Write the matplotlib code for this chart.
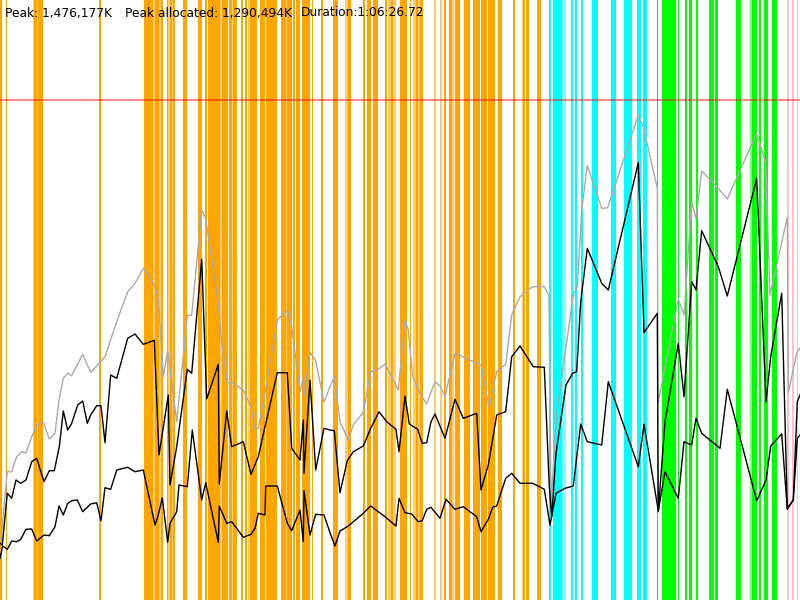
import matplotlib
matplotlib.use("Agg")
import matplotlib.pyplot as plt

# ---- header text values ----
peak_text = "Peak: 1,476,177K"
alloc_text = "Peak allocated: 1,290,494K"
duration_text = "Duration:1:06:26.72"
peak_level = 100  # screen row of the peak marker line

# ---- event bars (start, end) in time units ----
orange_bars = [(0, 2), (6, 7.3), (34.3, 36.7), (38, 43.3), (98.5, 100.5), (144, 147.5), (148.3, 153.3),
               (155, 159.3), (160.7, 162.7), (166.7, 168.3), (170, 171.7), (172.7, 175), (182.7, 186.7),
               (198.3, 201.7), (205, 207.3), (208.3, 220), (222, 228.3), (229.3, 231.7), (233.3, 236.7),
               (240.7, 243.3), (245, 246.7), (250, 257.3), (260, 265), (266, 277.3), (280.7, 286),
               (287.3, 291.7), (292.7, 295), (296, 300), (301.7, 310), (311.7, 312.7), (320.7, 323.3),
               (333.3, 338.3), (348, 351), (363.3, 365), (367.3, 370.7), (372.7, 378.3), (385, 386.7),
               (390.7, 393.3), (400, 407.3), (410, 411), (416, 418.3), (420, 422.7), (444, 446),
               (449, 451.7), (455, 460), (464, 470), (473.3, 480), (481, 487.3), (488.3, 495),
               (497.7, 502.3), (512.7, 515), (523, 525), (525.7, 529), (536.7, 541)]
light_orange_bars = [(32.7, 34.3), (36.7, 38), (147.5, 148.3), (153.3, 155), (159.3, 160.7),
                     (168.3, 170), (171.7, 172.7), (220, 222), (231.7, 233.3), (248, 250),
                     (286, 287.3), (345, 348), (387.7, 390.7), (393.3, 395.7), (412.7, 416),
                     (418.3, 420), (434, 435.7), (440, 442.3), (451.7, 454), (521.7, 523)]
cyan_bars = [(549, 550.5), (552.7, 561.7), (570.7, 572.7), (575, 576.7), (580.7, 582.7),
             (591.7, 598.3), (611, 616), (624, 626.7), (627.3, 631.7), (636.7, 640.7), (643.3, 647.3)]
light_cyan_bars = [(562.3, 565.7)]
green_bars = [(656.7, 658), (661.7, 667.7), (668.3, 672.7), (673.3, 676), (677.7, 679.3),
              (685, 686.7), (689.3, 691.7), (695.7, 697.7), (709, 714.3), (715, 718.3),
              (736, 741), (751.7, 756.7), (759, 760.5), (764, 768.3), (771.7, 776.7)]
light_green_bars = [(750, 751.7)]
pink_bars = [(786.5, 788.5), (791.5, 793.5), (796.5, 798)]

# ---- series (time, screen row) ----
peak_x = [1, 7.3, 11.7, 16.7, 21.7, 26, 31.7, 36.7, 43.3, 49.3, 55, 59, 63.3, 67.7, 71.7, 82.7, 90.7,
          99.3, 105, 116.7, 127.7, 135, 143.3, 148.3, 154.3, 158.3, 163.3, 167.7, 176.7, 187.3, 191.7,
          201.7, 205.7, 218.3, 221.7, 227.3, 232.3, 243.3, 251, 255, 258.3, 265, 277.3, 287.3, 291.7,
          300, 303.3, 304, 310, 315.7, 324, 330, 334.3, 340, 348.3, 353.3, 363.3, 370.7, 378.3, 385,
          398.3, 405, 408.3, 412.7, 420, 426.7, 435, 440, 445, 455, 481, 489, 496.7, 505.7, 511.7, 520,
          532.7, 544.3, 549, 551, 556.7, 573.3, 577.3, 581.7, 587.3, 601.7, 607.7, 638.3, 643.3, 657.3,
          658, 678.3, 684, 691.7, 696, 701.7, 716.7, 727.3, 756.7, 765.7, 770, 787.3, 788.3, 796.7, 800]
peak_y = [540, 471.7, 471.7, 456.7, 451.7, 452.7, 436.7, 425, 422.3, 439, 433.3, 400, 378.3, 373.3, 375.7,
          354.3, 372.3, 363.3, 356.7, 321.7, 291.7, 283.3, 268.3, 275, 285, 298.3, 376.7, 351, 421.7,
          315.7, 315, 210, 218.3, 303.3, 343.3, 382.7, 382.7, 390, 406.7, 429.3, 428.3, 393.3, 320, 310,
          326.7, 391.7, 378.3, 396.7, 352.3, 361, 402.3, 386.7, 376.7, 421.7, 440, 425, 412.3, 371.7,
          369.3, 364, 390, 320, 330, 376.7, 393.3, 404, 381.7, 386, 396.7, 353.3, 365, 406.7, 371.7,
          364.3, 315, 296.7, 286.7, 286.7, 296, 505, 413, 295, 286.7, 210, 165.7, 208.3, 207.7, 115,
          126.7, 188.3, 403, 299, 315, 201.7, 218.3, 171, 186.7, 199, 133.3, 163.3, 295, 217.3, 393,
          353, 348]

used_x = [0, 2.3, 7.3, 11.7, 16, 20.7, 26, 31.7, 36.7, 44, 49.3, 54.3, 59.3, 63.3, 67.7, 71.7, 77.7,
          82.7, 87.3, 90.7, 96.7, 101, 105, 110.7, 116.7, 127.7, 135, 143.3, 154.3, 159, 168.3, 170,
          176.7, 187.3, 191.7, 201.7, 206.7, 218.3, 219.3, 226.7, 231.7, 243.3, 251, 258.3, 265, 277.3,
          287.3, 291.7, 300, 303.3, 304, 310, 315.7, 324, 330, 334.3, 340, 347.3, 353.3, 363.3, 370.7,
          379, 386.7, 396, 399, 405, 409.3, 417.7, 422.3, 426.7, 431, 435, 445, 455, 463.3, 476.7, 481,
          488.3, 496.7, 505.7, 511.7, 520, 533.3, 544.3, 549.3, 551.7, 556, 566, 572.7, 576.7, 580.7,
          587.3, 601.7, 608.3, 638.3, 644, 657.3, 658.3, 665, 678.3, 684, 691.7, 696, 701.7, 718.3,
          727.3, 756.7, 766, 770.7, 781.7, 787.3, 793.3, 797.3, 800]
used_y = [543.3, 545, 493.3, 498.3, 480, 483.3, 480, 461.7, 458.3, 481.7, 470.7, 470.7, 446.7, 411, 430,
          423.3, 405, 401, 423.3, 415, 405.7, 405.7, 442.7, 375, 378.3, 338.3, 334, 344.3, 340.3, 455,
          395, 485, 446.7, 369.3, 373.3, 259.3, 399, 364.3, 484, 411, 446.7, 441.7, 474.3, 456.7, 426.7,
          372.7, 372.7, 448.3, 460, 420, 473.3, 380, 470, 428.3, 430, 430.7, 492.7, 460.7, 451.7, 446,
          428.3, 411.7, 421.7, 429.3, 451.7, 396, 424, 429.3, 443.3, 442.7, 421.7, 414, 438.3, 399.3,
          418.3, 413.3, 490, 465, 415, 411.7, 356.7, 346, 366.7, 367.3, 486.7, 516.7, 453.3, 385, 373.3,
          371.7, 301.7, 248.3, 283.3, 290, 162.7, 332.7, 313.3, 511.7, 421.7, 343.3, 396.7, 281.7, 290,
          230.7, 266.7, 296, 178.3, 401.7, 356.7, 293.3, 508.3, 500, 401.7, 395]

alloc_x = [0, 2.7, 7.3, 11.7, 16.7, 20.7, 26, 31.7, 36.7, 44, 49.3, 55, 59, 63.3, 67.7, 71.7, 77.3,
           82.7, 90.7, 96.7, 101, 105, 110.7, 116.7, 127.7, 135, 143.3, 155, 158.3, 162.3, 167.7, 170,
           176.7, 179, 187.3, 192.3, 201.7, 205.7, 218.3, 219.3, 226.7, 231.7, 243.3, 251, 255, 258.3,
           265, 265.7, 277.3, 287.3, 291.7, 300, 303.3, 304, 310, 315.7, 324, 330, 335, 340, 348.3,
           363.3, 370.7, 385, 396, 399, 405, 411.7, 418.3, 422.3, 426.7, 431, 440, 446, 455, 463.3,
           476.7, 481, 488.3, 492.7, 496.7, 505.7, 511.7, 520, 532.7, 544.3, 550, 556, 565, 573.3,
           580.7, 587.3, 601.7, 608.3, 638.3, 644, 658.3, 665, 678.3, 684, 691.7, 696, 701.7, 720,
           727.3, 756.7, 766, 770.7, 781.7, 787.3, 793.3, 797.3, 800]
alloc_y = [558.3, 546, 549.3, 541, 541.7, 539.3, 529.3, 529, 541, 535, 535.7, 526.7, 506, 515, 503.3,
           500.7, 500, 511.7, 504, 502.7, 520.7, 487.7, 489.3, 470, 467.3, 471.7, 470, 525, 515, 497.7,
           542.3, 523.3, 511.7, 485, 486.7, 430, 500, 482.7, 542.3, 506, 523.3, 521.7, 537.3, 534.3,
           528.3, 513.3, 515, 486, 486, 523.3, 530.7, 510, 541.7, 490.7, 535, 514.3, 515, 532.7, 546,
           531, 526, 513.3, 506, 516.7, 526, 498.3, 512.7, 514, 521.7, 520.7, 509.3, 507.3, 518.3, 499.3,
           509.3, 506.7, 516.7, 531.7, 519.3, 507.3, 506, 478.3, 473.3, 483.3, 483.3, 489.3, 525, 493.3,
           488.3, 486, 424, 441.7, 445, 381.7, 466.7, 424.3, 510.7, 471.7, 498.3, 441.7, 445, 418.3,
           433.3, 448.3, 389.3, 500.7, 480, 446, 434, 509.3, 500, 438.3, 435]

fig = plt.figure(figsize=(8, 6), dpi=100)
ax = fig.add_axes([0, 0, 1, 1])
ax.set_xlim(0, 800)
ax.set_ylim(600, 0)
ax.axis("off")

for bars, col in [(orange_bars, "#FFA500"), (light_orange_bars, "#FFCB70"),
                  (cyan_bars, "#00FFFF"), (light_cyan_bars, "#7FFFFF"),
                  (green_bars, "#00FF00"), (light_green_bars, "#80FF80"),
                  (pink_bars, "#FFC0CB")]:
    for s, e in bars:
        ax.axvspan(s, e, color=col, lw=0, zorder=1, antialiased=False)

ax.axhline(peak_level, color="#FF0000", alpha=0.55, lw=1.2, zorder=2)

ax.plot(peak_x, peak_y, color="#AAAAAA", lw=1.0, zorder=3)
ax.plot(used_x, used_y, color="black", lw=1.0, zorder=4)
ax.plot(alloc_x, alloc_y, color="black", lw=1.0, zorder=4)

fs = 8.8
fig.text(5 / 800, 1 - 13 / 600, peak_text, fontsize=fs, va="center", ha="left", family="DejaVu Sans")
fig.text(125 / 800, 1 - 13 / 600, alloc_text, fontsize=fs, va="center", ha="left", family="DejaVu Sans")
fig.text(301 / 800, 1 - 13 / 600, duration_text, fontsize=fs, va="center", ha="left", family="DejaVu Sans")

fig.savefig("out.png", dpi=100)
